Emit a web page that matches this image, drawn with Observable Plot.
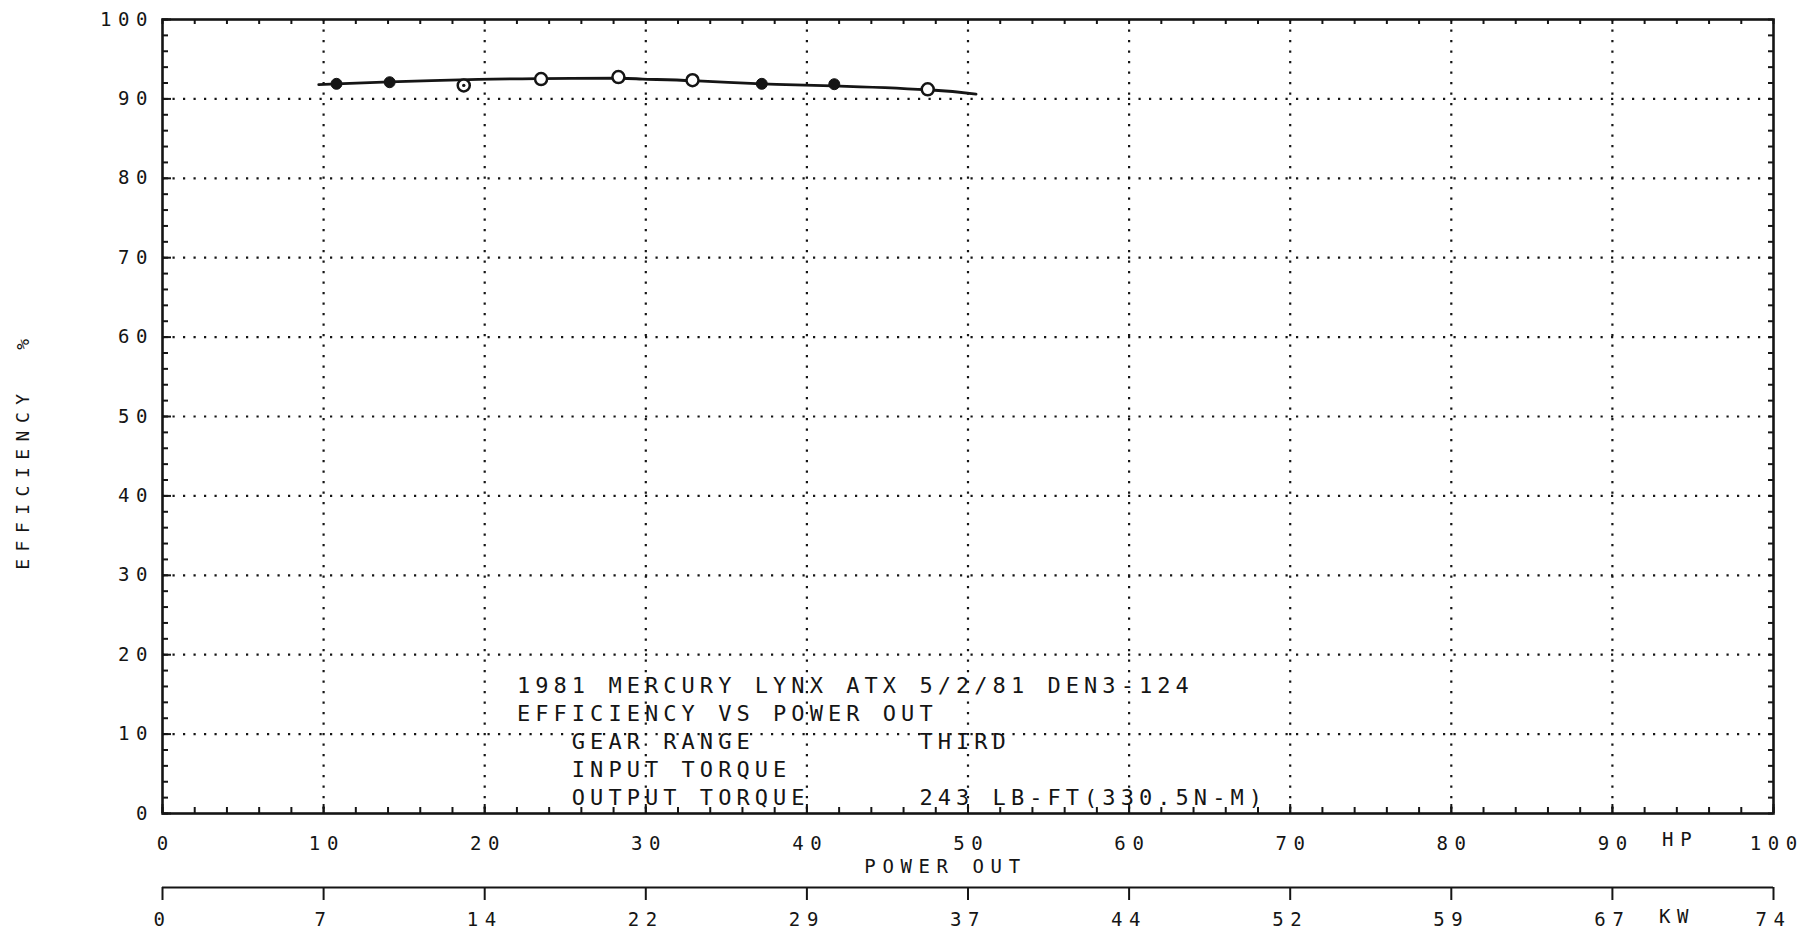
<!DOCTYPE html>
<html><head><meta charset="utf-8">
<script src="https://cdn.jsdelivr.net/npm/d3@7"></script>
<script src="https://cdn.jsdelivr.net/npm/@observablehq/plot@0.6"></script>
<style>
html,body{margin:0;padding:0;background:#fff;overflow:hidden}
svg text{white-space:pre}
</style></head><body><div id="chart"></div>
<script>
// ---- data ----
const hpTicks = [0, 10, 20, 30, 40, 50, 60, 70, 80, 90, 100];
const kwTickLabels = ["0", "7", "14", "22", "29", "37", "44", "52", "59", "67", "74"];
const effTicks = [0, 10, 20, 30, 40, 50, 60, 70, 80, 90, 100];
const gridHP = [10, 20, 30, 40, 50, 60, 70, 80, 90];
const gridEff = [10, 20, 30, 40, 50, 60, 70, 80, 90];

const pointHP = [10.8, 14.1, 18.7, 23.5, 28.3, 32.9, 37.2, 41.7, 47.5];
const pointEff = [91.9, 92.1, 91.7, 92.5, 92.75, 92.35, 91.9, 91.85, 91.2];
const pointMarker = ["filled", "filled", "dotted", "open", "open", "open", "filled", "filled", "open"];

const curveHP = [9.7, 10.8, 14.1, 19.6, 23.5, 28.2, 29.8, 32.9, 37.2, 41.6, 47.5, 50.5];
const curveEff = [91.8, 91.9, 92.15, 92.45, 92.55, 92.6, 92.5, 92.3, 91.9, 91.65, 91.15, 90.6];

const noteLines = [
  "1981 MERCURY LYNX ATX 5/2/81 DEN3-124",
  "EFFICIENCY VS POWER OUT",
  "   GEAR RANGE         THIRD",
  "   INPUT TORQUE",
  "   OUTPUT TORQUE      243 LB-FT(330.5N-M)"
];
const yTitle = "EFFICIENCY  %";
const xTitle = "POWER OUT";
const hpUnit = "HP";
const kwUnit = "KW";

// ---- build ----
const W = 1813, H = 934, mL = 162, mR = 40, mT = 19, mB = 121;
const fw = W - mL - mR, fh = H - mT - mB;
const ink = "#151515";
const points = pointHP.map((hp, i) => ({hp, eff: pointEff[i], m: pointMarker[i]}));
const curve = curveHP.map((hp, i) => ({hp, eff: curveEff[i]}));
const minorX = d3.range(0, 101, 2);
const minorY = d3.range(0, 101, 2);
const kwFmt = d => kwTickLabels[hpTicks.indexOf(d)];
const TICK_FS = 19, TICK_LS = 6.6, NOTE_FS = 22, NOTE_LS = 5.05, TITLE_FS = 18, TITLE_LS = 7.5;

const plot = Plot.plot({
  width: W, height: H,
  marginLeft: mL, marginRight: mR, marginTop: mT, marginBottom: mB,
  style: {fontFamily: "'DejaVu Sans Mono', monospace", background: "#fff", color: ink},
  x: {domain: [0, 100]},
  y: {domain: [0, 100]},
  marks: [
    // dotted grid
    Plot.gridX(gridHP, {stroke: ink, strokeOpacity: 1, strokeWidth: 2.2, strokeDasharray: "2.2 8.3"}),
    Plot.gridY(gridEff, {stroke: ink, strokeOpacity: 1, strokeWidth: 2.2, strokeDasharray: "2.2 8.3"}),
    // inward edge ticks
    Plot.tickY(minorY, {y: d => d, stroke: ink, strokeWidth: 2, insetRight: fw - 6}),
    Plot.tickY(effTicks, {y: d => d, stroke: ink, strokeWidth: 2, insetRight: fw - 9}),
    Plot.tickY(minorY, {y: d => d, stroke: ink, strokeWidth: 2, insetLeft: fw - 5}),
    Plot.tickX(minorX, {x: d => d, stroke: ink, strokeWidth: 2, insetTop: fh - 6}),
    Plot.tickX(hpTicks, {x: d => d, stroke: ink, strokeWidth: 2, insetTop: fh - 9}),
    Plot.tickX(minorX, {x: d => d, stroke: ink, strokeWidth: 2, insetBottom: fh - 5}),
    Plot.frame({stroke: ink, strokeWidth: 2.6}),
    // axes
    Plot.axisY(effTicks, {tickSize: 0, tickPadding: 8.4, fontSize: TICK_FS, label: null, fill: ink}),
    Plot.axisX(hpTicks, {tickSize: 0, tickPadding: 23, dx: TICK_LS / 2, fontSize: TICK_FS, label: null, fill: ink}),
    // kW secondary axis
    Plot.ruleY([0], {dy: 74, stroke: ink, strokeWidth: 2.2}),
    Plot.axisX(hpTicks, {anchor: "bottom", tickSize: 13, tickPadding: 12, dy: 74, fontSize: TICK_FS,
      tickFormat: kwFmt, label: null, stroke: ink, strokeWidth: 2, fill: ink}),
    // unit + title labels
    Plot.text([hpUnit], {x: () => 94.0, frameAnchor: "bottom", dy: 32, dx: TICK_LS / 2, fontSize: TICK_FS, fill: ink}),
    Plot.text([kwUnit], {x: () => 93.8, frameAnchor: "bottom", dy: 109, dx: TICK_LS / 2, fontSize: TICK_FS, fill: ink}),
    Plot.text([xTitle], {x: () => 48.4, frameAnchor: "bottom", dy: 59, dx: TICK_LS / 2, fontSize: TICK_FS, fill: ink}),
    Plot.text([yTitle], {y: () => 30.7, frameAnchor: "left", rotate: -90, dx: -139, textAnchor: "start",
      fontSize: TITLE_FS, fill: ink}),
    // annotation block
    Plot.text([noteLines.join("\n")], {x: () => 22.0, y: () => 17.7, textAnchor: "start", lineAnchor: "top",
      lineHeight: 28 / NOTE_FS, fontSize: NOTE_FS, fill: ink}),
    // data
    Plot.line(curve, {x: "hp", y: "eff", curve: "natural", stroke: ink, strokeWidth: 2.8}),
    Plot.dot(points.filter(d => d.m === "filled"), {x: "hp", y: "eff", r: 5.5, fill: ink, stroke: ink, strokeWidth: 1}),
    Plot.dot(points.filter(d => d.m !== "filled"), {x: "hp", y: "eff", r: 6, fill: "#fff", stroke: ink, strokeWidth: 2.5}),
    Plot.dot(points.filter(d => d.m === "dotted"), {x: "hp", y: "eff", r: 1.7, fill: ink})
  ]
});

// letter spacing to imitate the wide plotter lettering
const lsBySize = {[TICK_FS]: TICK_LS, [NOTE_FS]: NOTE_LS, [TITLE_FS]: TITLE_LS};
d3.select(plot).selectAll("g").each(function () {
  const fs = this.getAttribute("font-size");
  if (fs != null && lsBySize[+fs] != null) {
    d3.select(this).selectAll("text")
      .attr("letter-spacing", lsBySize[+fs])
      .style("letter-spacing", lsBySize[+fs] + "px");
  }
});
d3.select(plot).selectAll('g[aria-label$="tick label"] text')
  .attr("letter-spacing", TICK_LS)
  .style("letter-spacing", TICK_LS + "px");
document.getElementById("chart").appendChild(plot);
</script>
</body></html>
